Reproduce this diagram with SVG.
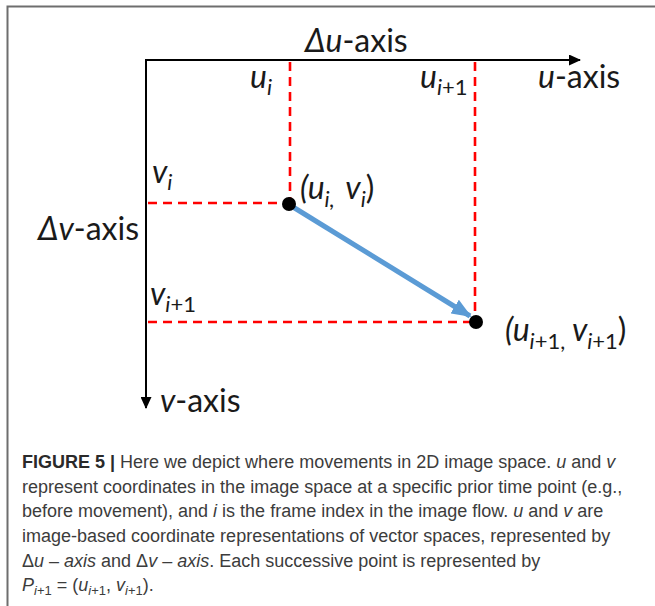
<svg xmlns="http://www.w3.org/2000/svg" width="655" height="606" viewBox="0 0 655 606">
<defs>
<style>
.lbl{font-family:Lato,"Open Sans","Liberation Sans",sans-serif;font-size:32px;fill:#1a1a1a}
.it{font-style:italic}
.sub{font-size:22px}
.dash{stroke:#ff0000;stroke-width:2.6;stroke-dasharray:9 6;fill:none}
.axis{stroke:#000;stroke-width:2;fill:none}
.cap{font-family:"Liberation Sans",Arial,sans-serif;font-size:18px;fill:#3c3c3c}
.b{font-weight:bold;fill:#2a2a2a}
.cs{font-size:13px}
</style>
<marker id="ah" markerWidth="12" markerHeight="11" refX="11" refY="5.5" orient="auto" markerUnits="userSpaceOnUse" viewBox="0 0 12 11"><path d="M0,0 L12,5.5 L0,11 z" fill="#000"/></marker>
<marker id="bh" markerWidth="20" markerHeight="16" refX="18" refY="8" orient="auto" markerUnits="userSpaceOnUse" viewBox="0 0 20 16"><path d="M0,0 L20,8 L0,16 z" fill="#5b9bd5"/></marker>
</defs>
<rect width="655" height="606" fill="#fff"/>
<path d="M7.5,606 V6.5 H655" stroke="#6e6e6e" stroke-width="2" fill="none"/>

<g id="connectors">
<line class="axis" x1="145" y1="60" x2="580" y2="60" marker-end="url(#ah)"/>
<line class="axis" x1="146" y1="60" x2="146" y2="408" marker-end="url(#ah)"/>
<line class="dash" x1="290" y1="62" x2="290" y2="200"/>
<line class="dash" x1="475" y1="62" x2="475" y2="318"/>
<line class="dash" x1="148" y1="203" x2="286" y2="203"/>
<line class="dash" x1="148" y1="322" x2="472" y2="322"/>
<line x1="293" y1="207" x2="470" y2="316" stroke="#5b9bd5" stroke-width="5" marker-end="url(#bh)"/>
</g>

<g id="p1"><circle cx="289" cy="204" r="7" fill="#000"/>
<text class="lbl" x="300" y="199"><tspan class="it">(u</tspan><tspan class="it sub" dy="8">i,</tspan><tspan class="it" dy="-8" dx="4"> v</tspan><tspan class="it sub" dy="8">i</tspan><tspan dy="-8">)</tspan></text></g>
<g id="p2"><circle cx="476" cy="322" r="7" fill="#000"/>
<text class="lbl" x="505" y="341"><tspan class="it">(u</tspan><tspan class="sub" dy="8"><tspan class="it">i</tspan>+1,</tspan><tspan class="it" dy="-8"> v</tspan><tspan class="sub" dy="8"><tspan class="it">i</tspan>+1</tspan><tspan dy="-8">)</tspan></text></g>

<g id="axis-labels">
<text class="lbl" x="305" y="52"><tspan class="it">Δu</tspan>-axis</text>
<text class="lbl" x="538" y="88"><tspan class="it">u</tspan>-axis</text>
<text class="lbl" x="38" y="240"><tspan class="it">Δv</tspan>-axis</text>
<text class="lbl" x="160" y="412"><tspan class="it">v</tspan>-axis</text>
<text class="lbl" x="250" y="88"><tspan class="it">u</tspan><tspan class="it sub" dy="7">i</tspan></text>
<text class="lbl" x="420" y="88"><tspan class="it">u</tspan><tspan class="sub" dy="7"><tspan class="it">i</tspan>+1</tspan></text>
<text class="lbl" x="152" y="183"><tspan class="it">v</tspan><tspan class="it sub" dy="7">i</tspan></text>
<text class="lbl" x="150" y="305"><tspan class="it">v</tspan><tspan class="sub" dy="7"><tspan class="it">i</tspan>+1</tspan></text>
</g>

<g id="caption">
<text class="cap" x="22" y="468"><tspan class="b">FIGURE 5 | </tspan>Here we depict where movements in 2D image space. <tspan class="it">u</tspan> and <tspan class="it">v</tspan></text>
<text class="cap" x="22" y="493">represent coordinates in the image space at a specific prior time point (e.g.,</text>
<text class="cap" x="22" y="517">before movement), and <tspan class="it">i</tspan> is the frame index in the image flow. <tspan class="it">u</tspan> and <tspan class="it">v</tspan> are</text>
<text class="cap" x="22" y="542">image-based coordinate representations of vector spaces, represented by</text>
<text class="cap" x="22" y="567">Δ<tspan class="it">u</tspan> – <tspan class="it">axis</tspan> and Δ<tspan class="it">v</tspan> – <tspan class="it">axis</tspan>. Each successive point is represented by</text>
<text class="cap" x="22" y="591"><tspan class="it">P</tspan><tspan class="cs it" dy="4">i</tspan><tspan class="cs">+1</tspan><tspan dy="-4"> = (</tspan><tspan class="it">u</tspan><tspan class="cs it" dy="4">i</tspan><tspan class="cs">+1</tspan><tspan dy="-4">, </tspan><tspan class="it">v</tspan><tspan class="cs it" dy="4">i</tspan><tspan class="cs">+1</tspan><tspan dy="-4">).</tspan></text>
</g>
</svg>
